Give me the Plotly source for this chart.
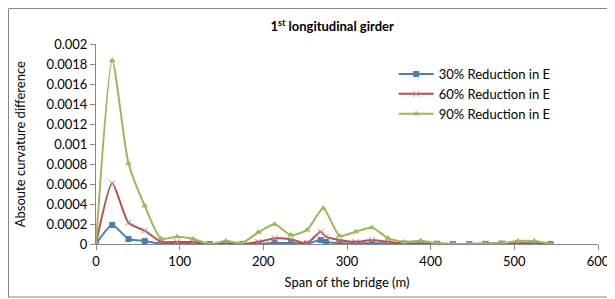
import plotly.graph_objects as go

# Data
span_green = [0, 19.4, 38.8, 58.2, 77.6, 97.0, 116.4, 135.8, 155.2, 174.6, 194.0, 213.4,
              232.8, 252.2, 271.6, 291.0, 310.4, 329.8, 349.2, 368.6, 388.0, 407.4, 426.8,
              446.2, 465.6, 485.0, 504.4, 523.8, 543.2]
span_br = [0, 19.4, 38.8, 58.2, 77.6, 97.0, 116.4, 135.8, 155.2, 174.6, 194.0, 213.4,
           232.8, 252.2, 268.5, 274.8, 291.0, 310.4, 329.8, 349.2, 368.6, 388.0, 407.4,
           426.8, 446.2, 465.6, 485.0, 504.4, 523.8, 543.2]

red30 = [0, 0.00019, 0.00005, 0.00003, 0.000005, 0.000002, 0.000002, 0, 0.000002, 0,
         0.000003, 0.00001, 0.00001, 0.000003, 0.00004, 0.00002, 0.00001, 0.000005,
         0.00001, 0.000005, 0.000003, 0.000003, 0.000002, 0, 0, 0.000002, 0.000003,
         0.000003, 0.000003, 0]
red60 = [0, 0.000607, 0.000213, 0.000133, 0.000023, 0.00002, 0.00002, 0, 0.00001, 0,
         0.00002, 0.000055, 0.000047, 0.000007, 0.000123, 0.000073, 0.00004, 0.00002,
         0.00004, 0.00002, 0.000005, 0.000005, 0.000005, 0, 0, 0.000003, 0.000005,
         0.000008, 0.000008, 0]
red90 = [0, 0.001835, 0.000807, 0.000383, 0.000055, 0.000073, 0.00005, 0, 0.00003,
         0.00001, 0.000117, 0.000197, 0.00009, 0.00014, 0.000357, 0.000083, 0.000123,
         0.000165, 0.000057, 0.00002, 0.000033, 0.000007, 0, 0, 0.000003, 0.000007,
         0.00003, 0.00003, 0]

names = ["30% Reduction in E", "60% Reduction in E", "90% Reduction in E"]
x_ticks = [0, 100, 200, 300, 400, 500, 600]
y_ticks = [0, 0.0002, 0.0004, 0.0006, 0.0008, 0.001, 0.0012, 0.0014, 0.0016, 0.0018, 0.002]
y_labels = ["0", "0.0002", "0.0004", "0.0006", "0.0008", "0.001", "0.0012", "0.0014",
            "0.0016", "0.0018", "0.002"]

FONT = "Lato, 'Open Sans', sans-serif"

fig = go.Figure()
fig.add_trace(go.Scatter(x=span_br, y=red30, name=names[0], mode="lines+markers",
                         line=dict(color="#4A7EBB", width=2, shape="spline", smoothing=0.6),
                         marker=dict(symbol="square", size=6, color="#4A7EBB")))
fig.add_trace(go.Scatter(x=span_br, y=red60, name=names[1], mode="lines+markers",
                         line=dict(color="#BE4B48", width=2, shape="spline", smoothing=0.6),
                         marker=dict(symbol="x-thin", size=6, color="#BE4B48",
                                     line=dict(color="#D98080", width=1))))
fig.add_trace(go.Scatter(x=span_green, y=red90, name=names[2], mode="lines+markers",
                         line=dict(color="#98B954", width=2, shape="spline", smoothing=0.6),
                         marker=dict(symbol="triangle-up", size=6, color="#98B954")))

# The page body adds an 8px offset; the figure is sized so the plot area lands
# at the same page pixels as the reference.
fig.update_layout(
    width=607, height=291,
    margin=dict(l=88, r=17, t=36, b=55, autoexpand=False),
    paper_bgcolor="white", plot_bgcolor="white",
    font=dict(family=FONT, size=13, color="#000"),
    title=dict(text="<b>1<sup>st</sup> longitudinal girder</b>", x=0.534, xanchor="center",
               y=0.935, yanchor="middle", font=dict(size=13, family=FONT), automargin=False),
    showlegend=True,
    legend=dict(x=0.593, y=0.925, xanchor="left", yanchor="top", bgcolor="rgba(0,0,0,0)",
                font=dict(size=13, family=FONT), tracegroupgap=1, itemwidth=35),
    xaxis=dict(range=[0, 600], tickvals=x_ticks, ticks="outside", ticklen=5,
               tickcolor="#888", showline=True, linecolor="#888", linewidth=1,
               showgrid=False, zeroline=False, automargin=False,
               title=dict(text="Span of the bridge (m)", font=dict(size=13), standoff=10)),
    yaxis=dict(range=[0, 0.002], tickvals=y_ticks, ticktext=y_labels, ticks="outside",
               ticklen=5, tickcolor="#888", showline=True, linecolor="#888", linewidth=1,
               showgrid=False, zeroline=False, automargin=False),
)

fig.add_annotation(text="Absoute curvature difference", xref="paper", yref="paper",
                   x=-0.151, y=0.5, xanchor="center", yanchor="middle", textangle=-90,
                   showarrow=False, font=dict(size=13, family=FONT))

fig.add_shape(type="rect", xref="paper", yref="paper", x0=-0.1743, x1=1.028, y0=-0.265,
              y1=1.1775, line=dict(color="#888", width=1), fillcolor="rgba(0,0,0,0)",
              layer="below")

fig.write_html("out.html")
